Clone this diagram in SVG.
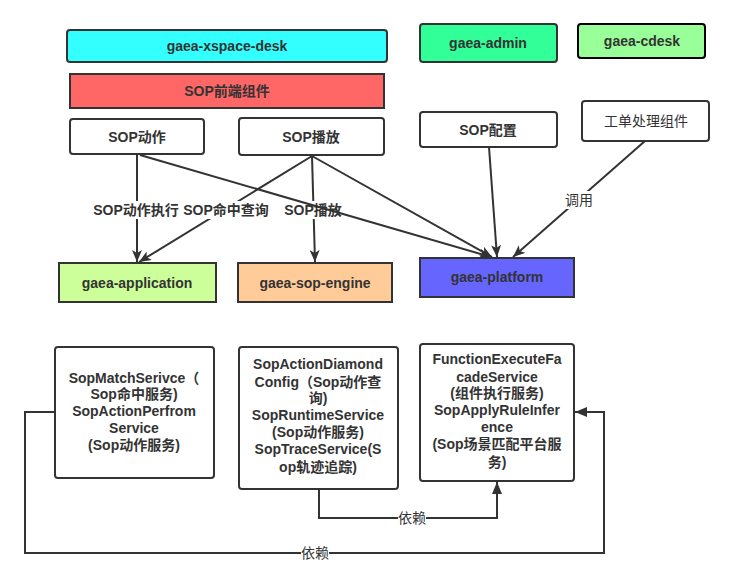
<svg xmlns="http://www.w3.org/2000/svg" width="734" height="579" viewBox="0 0 734 579">
<style>
.n{stroke:#333;stroke-width:2}
.t{font-family:"Liberation Sans","Noto Sans CJK SC",sans-serif;font-size:14px;font-weight:bold;fill:#333;text-anchor:middle}
.r{font-weight:normal}
.e{fill:none;stroke:#333;stroke-width:2}
.lb{fill:#fff}
</style>
<defs>
<marker id="a" viewBox="0 0 12 10" refX="12" refY="5" markerWidth="12" markerHeight="10" markerUnits="userSpaceOnUse" orient="auto">
<path d="M0,0 L12,5 L0,10 L3,5 z" fill="#333"/>
</marker>
<marker id="b" viewBox="0 0 12 10" refX="12" refY="5" markerWidth="12" markerHeight="10" markerUnits="userSpaceOnUse" orient="auto">
<path d="M0,0 L12,5 L0,10 z" fill="#333"/>
</marker>
</defs>
<rect width="734" height="579" fill="#fff"/>

<g id="edges">
<path class="e" d="M137,155 L137,262" marker-end="url(#a)"/>
<rect class="lb" x="95" y="201" width="84" height="18"/>
<text class="t" x="136" y="215">SOP动作执行</text>
<path class="e" d="M312,156 L139,262" marker-end="url(#a)"/>
<rect class="lb" x="184" y="201" width="84" height="18"/>
<text class="t" x="226" y="215">SOP命中查询</text>
<path class="e" d="M312,156 L315,262" marker-end="url(#a)"/>
<rect class="lb" x="285" y="201" width="57" height="18"/>
<text class="t" x="313" y="215">SOP播放</text>
<path class="e" d="M140,155 L491,257" marker-end="url(#a)"/>
<path class="e" d="M312,156 L492,257" marker-end="url(#a)"/>
<path class="e" d="M489,147 L497,257" marker-end="url(#a)"/>
<path class="e" d="M645,141 L513,257" marker-end="url(#a)"/>
<rect class="lb" x="565" y="191" width="28" height="18"/>
<text class="t r" x="579" y="205">调用</text>
<path class="e" d="M319,489 L319,518 L497,518 L497,482" marker-end="url(#b)"/>
<rect class="lb" x="398" y="509" width="28" height="18"/>
<text class="t r" x="412" y="523">依赖</text>
<path class="e" d="M55,412 L25,412 L25,553 L604,553 L604,412 L575,412" marker-end="url(#b)"/>
<rect class="lb" x="301" y="544" width="28" height="18"/>
<text class="t r" x="315" y="558">依赖</text>
</g>

<g id="xspace"><rect class="n" x="67" y="30" width="320" height="32" rx="3" fill="#33FFFF"/><text class="t" x="227" y="51">gaea-xspace-desk</text></g>
<g id="admin"><rect class="n" x="420" y="24" width="137" height="38" rx="3" fill="#33FF99"/><text class="t" x="488" y="48">gaea-admin</text></g>
<g id="cdesk"><rect x="578" y="24" width="127" height="34" rx="3" fill="#99FF99" stroke="#000" stroke-width="2"/><text class="t" x="642" y="46">gaea-cdesk</text></g>
<g id="frontend"><rect class="n" x="70" y="74" width="314" height="34" fill="#FF6666"/><text class="t" x="227" y="96">SOP前端组件</text></g>
<g id="action"><rect class="n" x="70" y="119" width="134" height="35" rx="3" fill="#fff"/><text class="t" x="137" y="142">SOP动作</text></g>
<g id="play"><rect class="n" x="239" y="118" width="145" height="37" rx="3" fill="#fff"/><text class="t" x="311" y="142">SOP播放</text></g>
<g id="config"><rect class="n" x="420" y="112" width="137" height="35" rx="3" fill="#fff"/><text class="t" x="488" y="135">SOP配置</text></g>
<g id="workorder"><rect class="n" x="582" y="101" width="127" height="40" rx="3" fill="#fff"/><text class="t r" x="646" y="126">工单处理组件</text></g>
<g id="application"><rect class="n" x="59" y="263" width="157" height="39" fill="#CCFF99"/><text class="t" x="137" y="288">gaea-application</text></g>
<g id="engine"><rect class="n" x="238" y="263" width="154" height="39" fill="#FFCC99"/><text class="t" x="315" y="288">gaea-sop-engine</text></g>
<g id="platform"><rect class="n" x="420" y="258" width="154" height="39" fill="#6666FF"/><text class="t" x="497" y="282">gaea-platform</text></g>

<g id="svc1"><rect class="n" x="55" y="347" width="159" height="131" rx="3" fill="#fff"/>
<text class="t"><tspan x="134" y="383">SopMatchSerivce（</tspan><tspan x="134" y="399">Sop命中服务)</tspan><tspan x="134" y="416">SopActionPerfrom</tspan><tspan x="134" y="433">Service</tspan><tspan x="134" y="450">(Sop动作服务)</tspan></text></g>
<g id="svc2"><rect class="n" x="239" y="347" width="159" height="142" rx="3" fill="#fff"/>
<text class="t"><tspan x="318" y="369">SopActionDiamond</tspan><tspan x="318" y="387">Config（Sop动作查</tspan><tspan x="318" y="403">询)</tspan><tspan x="318" y="420">SopRuntimeService</tspan><tspan x="318" y="437">(Sop动作服务)</tspan><tspan x="318" y="454">SopTraceService(S</tspan><tspan x="318" y="472">op轨迹追踪)</tspan></text></g>
<g id="svc3"><rect class="n" x="420" y="344" width="154" height="137" rx="3" fill="#fff"/>
<text class="t"><tspan x="497" y="364">FunctionExecuteFa</tspan><tspan x="497" y="382">cadeService</tspan><tspan x="497" y="398">(组件执行服务)</tspan><tspan x="497" y="415">SopApplyRuleInfer</tspan><tspan x="497" y="432">ence</tspan><tspan x="497" y="449">(Sop场景匹配平台服</tspan><tspan x="497" y="467">务)</tspan></text></g>
</svg>
